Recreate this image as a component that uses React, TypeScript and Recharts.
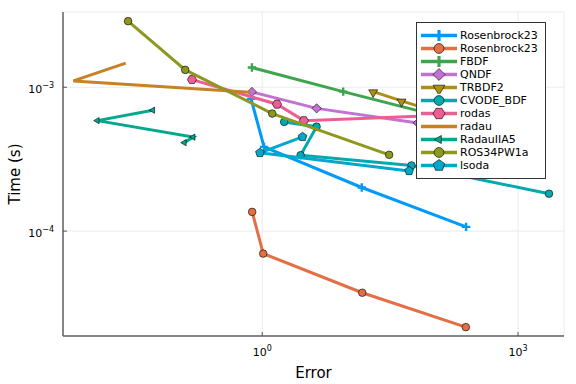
import React from "react";
import { ScatterChart, Scatter, XAxis, YAxis, CartesianGrid, Legend } from "recharts";

// work-precision data: error (x) vs run time in seconds (y)
const rosenErrA = [0.74, 1.05, 14.7, 246];
const rosenTimeA = [8.3e-4, 3.85e-4, 2.01e-4, 1.07e-4];
const rosenErrB = [0.763, 1.027, 14.9, 244];
const rosenTimeB = [1.36e-4, 6.98e-5, 3.73e-5, 2.15e-5];
const fbdfErr = [0.757, 8.9, 272];
const fbdfTime = [1.37e-3, 9.32e-4, 5.56e-4];
const qndfErr = [0.757, 4.35, 66.8];
const qndfTime = [9.28e-4, 7.13e-4, 5.65e-4];
const trbdf2Err = [20, 43, 121];
const trbdf2Time = [9.32e-4, 8.04e-4, 6.63e-4];
const cvodeErr = [1.81, 4.34, 2.82, 56.3, 2308];
const cvodeTime = [5.74e-4, 5.32e-4, 3.37e-4, 2.86e-4, 1.82e-4];
const rodasErr = [0.15, 1.49, 3.08, 158];
const rodasTime = [1.13e-3, 7.62e-4, 5.86e-4, 6.42e-4];
const radauErr = [0.0251, 0.0061, 0.718];
const radauTime = [1.47e-3, 1.106e-3, 9.23e-4];
const radauIIA5Err = [0.052, 0.01165, 0.155, 0.122];
const radauIIA5Time = [6.92e-4, 5.86e-4, 4.5e-4, 4.12e-4];
const ros34Err = [0.0267, 0.125, 1.31, 30.8];
const ros34Time = [2.88e-3, 1.32e-3, 6.56e-4, 3.39e-4];
const lsodaErr = [2.97, 0.94, 52.8];
const lsodaTime = [4.52e-4, 3.5e-4, 2.62e-4];

const xTicks = [1, 1000];
const yTicks = [1e-4, 1e-3];

const FONT = "DejaVu Sans, sans-serif";

const zip = (xs: number[], ys: number[]) => xs.map((x, i) => ({ x, y: ys[i] }));

const series = [
  { name: "Rosenbrock23", color: "#009AFA", marker: "cross", data: zip(rosenErrA, rosenTimeA) },
  { name: "Rosenbrock23", color: "#E36F47", marker: "circle", data: zip(rosenErrB, rosenTimeB) },
  { name: "FBDF", color: "#3EA44E", marker: "cross", data: zip(fbdfErr, fbdfTime) },
  { name: "QNDF", color: "#C371D2", marker: "diamond", data: zip(qndfErr, qndfTime) },
  { name: "TRBDF2", color: "#AC8E18", marker: "dtriangle", data: zip(trbdf2Err, trbdf2Time) },
  { name: "CVODE_BDF", color: "#00AAAE", marker: "circle", data: zip(cvodeErr, cvodeTime) },
  { name: "rodas", color: "#ED5E93", marker: "hexagon", data: zip(rodasErr, rodasTime) },
  { name: "radau", color: "#C68225", marker: "none", data: zip(radauErr, radauTime) },
  { name: "RadauIIA5", color: "#00A98D", marker: "ltriangle", data: zip(radauIIA5Err, radauIIA5Time) },
  { name: "ROS34PW1a", color: "#8E971E", marker: "circle", data: zip(ros34Err, ros34Time) },
  { name: "lsoda", color: "#00A8CB", marker: "pentagon", data: zip(lsodaErr, lsodaTime) },
];

function poly(cx: number, cy: number, r: number, n: number, rot: number) {
  const pts: string[] = [];
  for (let i = 0; i < n; i++) {
    const a = rot + (i * 2 * Math.PI) / n;
    pts.push(`${cx + r * Math.cos(a)},${cy + r * Math.sin(a)}`);
  }
  return pts.join(" ");
}

function Marker({ cx, cy, kind, color, s = 1 }: any) {
  const edge = { stroke: "#000", strokeWidth: 0.6 };
  switch (kind) {
    case "circle":
      return <circle cx={cx} cy={cy} r={3.8 * s} fill={color} {...edge} />;
    case "cross": {
      const h = 4.2 * s;
      return (
        <path
          d={`M${cx - h},${cy}H${cx + h}M${cx},${cy - h}V${cy + h}`}
          stroke={color}
          strokeWidth={2.4 * s}
          fill="none"
        />
      );
    }
    case "diamond":
      return <polygon points={poly(cx, cy, 4.6 * s, 4, -Math.PI / 2)} fill={color} {...edge} />;
    case "dtriangle":
      return <polygon points={poly(cx, cy + 0.8 * s, 5.2 * s, 3, Math.PI / 2)} fill={color} {...edge} />;
    case "hexagon":
      return <polygon points={poly(cx, cy, 4.6 * s, 6, 0)} fill={color} {...edge} />;
    case "ltriangle":
      return <polygon points={poly(cx, cy, 3.6 * s, 3, Math.PI)} fill={color} {...edge} />;
    case "pentagon":
      return <polygon points={poly(cx, cy, 4.6 * s, 5, -Math.PI / 2)} fill={color} {...edge} />;
    default:
      return <g />;
  }
}

const sup = (v: number) => {
  const e = Math.round(Math.log10(v));
  return e < 0 ? `\u2212${-e}` : `${e}`;
};

function XTick({ x, y, payload }: any) {
  return (
    <g>
      <line x1={x} x2={x} y1={y} y2={y - 4} stroke="#555" strokeWidth={1} />
      <text x={x} y={y + 20} textAnchor="middle" fontFamily={FONT} fontSize={11} fill="#000">
        10<tspan dy={-5} fontSize={8}>{sup(payload.value)}</tspan>
      </text>
    </g>
  );
}

function YTick({ x, y, payload }: any) {
  return (
    <g>
      <line x1={x} x2={x + 4} y1={y} y2={y} stroke="#555" strokeWidth={1} />
      <text x={x - 9} y={y + 5.5} textAnchor="end" fontFamily={FONT} fontSize={11} fill="#000">
        10<tspan dy={-5} fontSize={8}>{sup(payload.value)}</tspan>
      </text>
    </g>
  );
}

function LegendBox() {
  return (
    <div
      style={{
        background: "#fff",
        border: "1px solid #333",
        padding: "6px 0",
        width: 130,
        boxSizing: "border-box",
        fontFamily: FONT,
        fontSize: 11,
        color: "#000",
      }}
    >
      {series.map((s, i) => (
        <div key={i} style={{ display: "flex", alignItems: "center", height: 13 }}>
          <svg width={43} height={13} style={{ display: "block" }}>
            <line x1={4} x2={40} y1={6.5} y2={6.5} stroke={s.color} strokeWidth={3.5} />
            <Marker cx={22} cy={6.5} kind={s.marker} color={s.color} s={1.3} />
          </svg>
          <span style={{ whiteSpace: "nowrap", lineHeight: "13px" }}>{s.name}</span>
        </div>
      ))}
    </div>
  );
}

export default function App() {
  return (
    <div style={{ position: "absolute", left: 0, top: 0, width: 576, height: 384, background: "#fff" }}>
      <ScatterChart width={576} height={384} margin={{ top: 12, right: 12, bottom: 0, left: 0 }}>
        <CartesianGrid stroke="#ebebeb" strokeWidth={1} />
        <XAxis
          type="number"
          dataKey="x"
          scale="log"
          domain={[0.00461, 3459]}
          allowDataOverflow
          ticks={xTicks}
          height={48}
          tickSize={0}
          tickMargin={0}
          tickLine={false}
          tick={<XTick />}
          axisLine={{ stroke: "#606060", strokeWidth: 1.5 }}
          label={{
            content: ({ viewBox }: any) => (
              <text
                x={viewBox.x + viewBox.width / 2}
                y={viewBox.y + 41.5}
                textAnchor="middle"
                fontFamily={FONT}
                fontSize={15}
                fill="#000"
              >
                Error
              </text>
            ),
          }}
        />
        <YAxis
          type="number"
          dataKey="y"
          scale="log"
          domain={[1.866e-5, 3.334e-3]}
          allowDataOverflow
          ticks={yTicks}
          width={63}
          tickSize={0}
          tickMargin={0}
          tickLine={false}
          tick={<YTick />}
          axisLine={{ stroke: "#606060", strokeWidth: 1.5 }}
          label={{
            content: ({ viewBox }: any) => {
              const cx = viewBox.x + 20;
              const cy = viewBox.y + viewBox.height / 2;
              return (
                <text
                  x={cx}
                  y={cy}
                  transform={`rotate(-90 ${cx} ${cy})`}
                  textAnchor="middle"
                  fontFamily={FONT}
                  fontSize={15}
                  fill="#000"
                >
                  Time (s)
                </text>
              );
            },
          }}
        />
        {series.map((s, i) => (
          <Scatter
            key={i}
            name={s.name}
            data={s.data}
            fill={s.color}
            line={{ stroke: s.color, strokeWidth: 3 }}
            lineType="joint"
            isAnimationActive={false}
            shape={(p: any) => <Marker cx={p.cx} cy={p.cy} kind={s.marker} color={s.color} />}
          />
        ))}
        <Legend
          layout="horizontal"
          verticalAlign="middle"
          align="center"
          content={() => <LegendBox />}
          wrapperStyle={{ left: 416, top: 22, width: 131, height: "auto" }}
        />
      </ScatterChart>
    </div>
  );
}
